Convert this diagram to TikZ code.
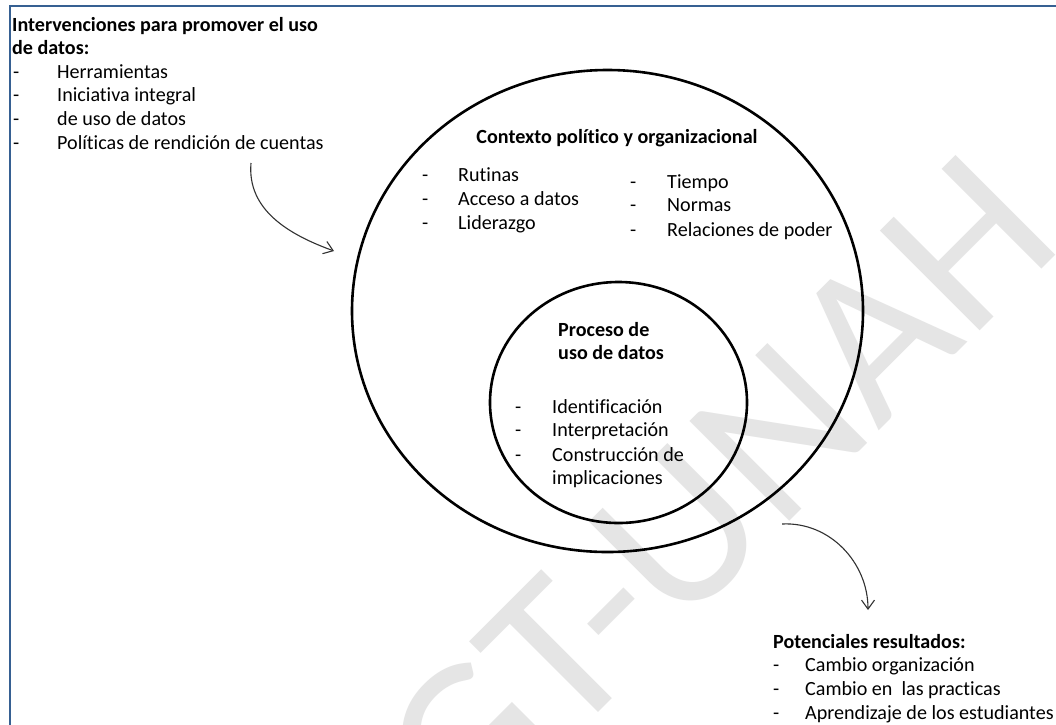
\documentclass[tikz,border=0pt]{standalone}
\usepackage{fontspec}
\setmainfont[Ligatures={NoCommon}]{Carlito}
\usetikzlibrary{shapes.geometric,arrows.meta}
\definecolor{framecol}{RGB}{54,96,146}
\definecolor{wmcol}{RGB}{229,229,229}
\definecolor{arrowcol}{RGB}{50,50,50}
\tikzset{
  txt/.style={anchor=base west, inner sep=0pt, font=\fontsize{20.1}{24}\selectfont},
  btxt/.style={txt, font=\fontsize{20.1}{24}\selectfont\bfseries},
  ring/.style={ellipse, draw=black, line width=2.6pt, inner sep=0pt},
  conn/.style={draw=arrowcol, line width=1.1pt, -{Straight Barb[length=9pt,width=13pt]}},
}
\begin{document}
\begin{tikzpicture}[x=1pt,y=-1pt]
\useasboundingbox (0,0) rectangle (1056,724);
\fill[white] (0,0) rectangle (1056,724);
% watermark
\node[rotate=45, text=wmcol, inner sep=0pt, font=\fontsize{220}{220}\selectfont] (wm) at (718,493) {GT-UNAH};
% frame
\draw[framecol, line width=2pt] (9.5,6) rectangle (1070,740);
% circles
\node[ring, minimum width=511pt, minimum height=482pt] (outer) at (607.5,311) {};
\node[ring, minimum width=257pt, minimum height=241pt] (inner) at (618.5,402.5) {};
% top-left block
\node[btxt] (t1) at (12,31) {Intervenciones para promover el uso};
\node[btxt] (t2) at (12,54) {de datos:};
\node[txt] (d1) at (13,78) {-};
\node[txt] (i1) at (57,78) {Herramientas};
\node[txt] (d2) at (13,101) {-};
\node[txt] (i2) at (57,101) {Iniciativa integral};
\node[txt] (d3) at (13,125) {-};
\node[txt] (i3) at (57,125) {de uso de datos};
\node[txt] (d4) at (13,149) {-};
\node[txt] (i4) at (57,149) {Políticas de rendición de cuentas};
% contexto
\node[btxt, anchor=base] (ctitle) at (617,143) {Contexto político y organizacional};
\node[txt] (cd1) at (422,181) {-};
\node[txt] (c1) at (458,181) {Rutinas};
\node[txt] (cd2) at (422,205) {-};
\node[txt] (c2) at (458,205) {Acceso a datos};
\node[txt] (cd3) at (422,229) {-};
\node[txt] (c3) at (458,229) {Liderazgo};
\node[txt] (cd4) at (630,188) {-};
\node[txt] (c4) at (667,188) {Tiempo};
\node[txt] (cd5) at (630,211) {-};
\node[txt] (c5) at (667,211) {Normas};
\node[txt] (cd6) at (630,236) {-};
\node[txt] (c6) at (667,236) {Relaciones de poder};
% proceso
\node[btxt] (p1) at (558,336) {Proceso de};
\node[btxt] (p2) at (558,359) {uso de datos};
\node[txt] (pd1) at (515,413) {-};
\node[txt] (q1) at (552,413) {Identificación};
\node[txt] (pd2) at (515,436) {-};
\node[txt] (q2) at (552,436) {Interpretación};
\node[txt] (pd3) at (515,461) {-};
\node[txt] (q3) at (552,461) {Construcción de};
\node[txt] (q4) at (552,484) {implicaciones};
% resultados
\node[btxt] (r0) at (773,648) {Potenciales resultados:};
\node[txt] (rd1) at (773,671) {-};
\node[txt] (r1) at (805,671) {Cambio organización};
\node[txt] (rd2) at (773,695) {-};
\node[txt] (r2) at (805,695) {Cambio en\ \ las practicas};
\node[txt] (rd3) at (773,719) {-};
\node[txt] (r3) at (805,719) {Aprendizaje de los estudiantes};
% arrows
\coordinate (a1s) at (251,163);
\coordinate (a1e) at (334,251);
\coordinate (a2s) at (782,524);
\coordinate (a2e) at (868,610);
\draw[conn] (a1s) to[out=-95, in=160] (a1e);
\draw[conn] (a2s) to[out=3, in=90] (a2e);
\end{tikzpicture}
\end{document}
